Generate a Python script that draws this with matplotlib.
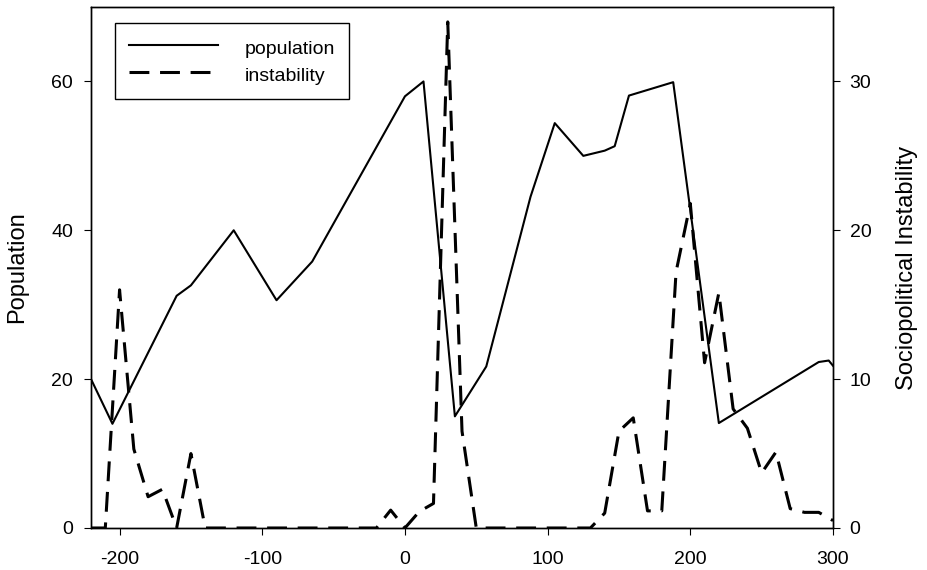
import matplotlib
matplotlib.use('Agg')
import matplotlib.pyplot as plt

plt.rcParams['font.family'] = ['Liberation Sans', 'DejaVu Sans']
plt.rcParams['axes.unicode_minus'] = False

# Population (left axis), irregularly spaced years
pop_years = [-220, -205, -160, -150, -120, -90, -65, 0, 13, 35, 57, 88, 105,
             125, 140, 147, 157, 188, 220, 290, 297, 300]
population = [20, 14, 31.2, 32.6, 40, 30.6, 35.8, 58, 60, 15, 21.7, 44.5, 54.4,
              50, 50.7, 51.3, 58.1, 59.9, 14.1, 22.3, 22.5, 21.8]

# Sociopolitical instability (right axis), every 10 years
inst_years = list(range(-220, 301, 10))
instability = [0, 0, 16, 5.3, 2.1, 2.6, 0, 5, 0, 0,
               0, 0, 0, 0, 0, 0, 0, 0, 0, 0,
               0, 1.2, 0, 1.1, 1.65, 34, 6.5, 0, 0, 0,
               0, 0, 0, 0, 0, 0, 1.0, 6.5, 7.4, 1.15,
               1.15, 17.2, 21.8, 11.1, 15.8, 8, 6.7, 3.7, 5.1, 1.3,
               1.05, 1.05, 0.5]

xticks = [-200, -100, 0, 100, 200, 300]
left_ticks = [0, 20, 40, 60]
right_ticks = [0, 10, 20, 30]

fig = plt.figure(figsize=(9.27, 5.70), dpi=100)
ax = fig.add_axes([0.0982, 0.0737, 0.8004, 0.914])
ax2 = ax.twinx()

l1, = ax.plot(pop_years, population, color='k', lw=1.5, label='population')
l2, = ax2.plot(inst_years, instability, color='k', lw=2.2, dashes=(6.5, 3.5),
               label='instability')

ax.set_xlim(-220, 300)
ax.set_ylim(0, 70)
ax2.set_ylim(0, 35)
ax.set_xticks(xticks)
ax.set_yticks(left_ticks)
ax2.set_yticks(right_ticks)

for a in (ax, ax2):
    for s in a.spines.values():
        s.set_linewidth(1.0)
        s.set_color('k')

ax.tick_params(axis='x', direction='out', length=5, width=0.8, labelsize=14, pad=11.5)
ax.tick_params(axis='y', direction='out', length=5, width=0.8, labelsize=14, pad=8)
ax2.tick_params(axis='y', direction='out', length=5, width=0.8, labelsize=14, pad=7)

ax.set_ylabel('Population', fontsize=17, va='center')
ax.yaxis.set_label_coords(-0.0997, 0.5)
ax2.set_ylabel('Sociopolitical Instability', fontsize=17, va='center')
ax2.yaxis.set_label_coords(1.0997, 0.5)

leg = ax2.legend([l1, l2], ['population', 'instability'], loc='upper left',
                 bbox_to_anchor=(0.032, 0.970), borderaxespad=0, fancybox=False,
                 edgecolor='k', framealpha=1, fontsize=14, handlelength=4.6,
                 handleheight=1.3, handletextpad=1.35, borderpad=0.72,
                 labelspacing=0.3)
leg.get_frame().set_linewidth(1.0)

fig.savefig('out.png', dpi=100)
